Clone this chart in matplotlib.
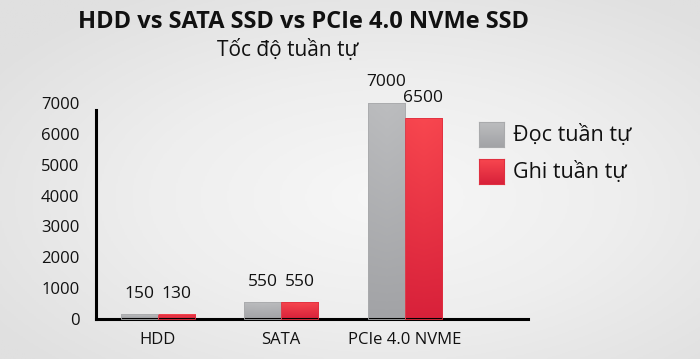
import numpy as np
import matplotlib
matplotlib.use("Agg")
import matplotlib.pyplot as plt
from matplotlib.colors import LinearSegmentedColormap
from matplotlib.patches import Rectangle

plt.rcParams['font.family'] = ['Open Sans', 'DejaVu Sans']

categories = ["HDD", "SATA", "PCIe 4.0 NVME"]
read_speed = [150, 550, 7000]
write_speed = [130, 550, 6500]
series_names = ["Đọc tuần tự", "Ghi tuần tự"]
yticks = [0, 1000, 2000, 3000, 4000, 5000, 6000, 7000]
title = "HDD vs SATA SSD vs PCIe 4.0 NVMe SSD"
subtitle = "Tốc độ tuần tự"

W, H = 700, 359
fig = plt.figure(figsize=(W / 100, H / 100), dpi=100)

# background radial gradient
bg = fig.add_axes([0, 0, 1, 1], zorder=-10)
yy, xx = np.mgrid[0:1:200j, 0:1:390j]
r = np.sqrt(((xx - 0.55) / 0.9) ** 2 + ((yy - 0.55) / 0.9) ** 2)
bgcmap = LinearSegmentedColormap.from_list("bg", ["#f7f7f7", "#eeeeee", "#e0e0e0"])
bg.imshow(r, cmap=bgcmap, aspect='auto', extent=[0, 1, 0, 1], vmin=0, vmax=0.75)
bg.set_axis_off()

ax = fig.add_axes([96 / W, 1 - 319 / H, (528 - 96) / W, (319 - 103) / H])
ax.patch.set_alpha(0)

x = np.arange(len(categories))
width = 0.3
gray_cmap = LinearSegmentedColormap.from_list("g", ["#a2a3a6", "#bcbdbf"])
red_cmap = LinearSegmentedColormap.from_list("r", ["#d8213a", "#f8474f"])

def grad_bars(xs, vals, cmap, edge):
    bars = ax.bar(xs, vals, width, color='none', edgecolor=edge, linewidth=0.6,
                  clip_on=False, zorder=3)
    for b in bars:
        x0, y0 = b.get_x(), b.get_y()
        w, h = b.get_width(), b.get_height()
        grad = np.linspace(0, 1, 256).reshape(-1, 1)
        horiz = 1 - 0.08 * np.abs(np.linspace(-1, 1, 32)).reshape(1, -1)
        img = grad * horiz
        im = ax.imshow(img, cmap=cmap, aspect='auto', origin='lower',
                       extent=[x0, x0 + w, y0, y0 + h], vmin=0, vmax=1,
                       zorder=2, clip_on=False)
        clip = Rectangle((x0, y0), w, h, transform=ax.transData)
        im.set_clip_path(clip)
    return bars

b1 = grad_bars(x - width / 2, read_speed, gray_cmap, '#a9aaac')
b2 = grad_bars(x + width / 2, write_speed, red_cmap, '#e03040')

for bars, vals in ((b1, read_speed), (b2, write_speed)):
    for b, v in zip(bars, vals):
        ax.annotate(str(v), (b.get_x() + b.get_width() / 2, b.get_height()),
                    xytext=(0, 9), textcoords='offset points', ha='center',
                    va='bottom', fontsize=12.5, color='#111111')

ax.set_xlim(-0.5, 3.0)
ax.set_ylim(0, 7000)
ax.set_yticks(yticks)
ax.set_yticklabels([str(t) for t in yticks], fontsize=12, color='#111111')
ax.set_xticks(x)
ax.set_xticklabels(categories, fontsize=12, color='#111111')
ax.tick_params(axis='both', length=0)
ax.tick_params(axis='y', pad=12)
ax.tick_params(axis='x', pad=9)
for s in ['top', 'right']:
    ax.spines[s].set_visible(False)
ax.spines['left'].set_linewidth(2.2)
ax.spines['bottom'].set_linewidth(2.2)
ax.spines['left'].set_bounds(0, 6780)

# legend
lx0 = 479 / W
for i, (name, cmap, ec) in enumerate(zip(series_names, [gray_cmap, red_cmap], ['#a9aaac', '#e03040'])):
    top = 122 + i * 37
    lax = fig.add_axes([lx0, 1 - (top + 25) / H, 25 / W, 25 / H])
    lax.imshow(np.linspace(0, 1, 64).reshape(-1, 1), cmap=cmap, aspect='auto', origin='lower')
    lax.set_xticks([]); lax.set_yticks([])
    for s in lax.spines.values():
        s.set_edgecolor(ec)
        s.set_linewidth(0.8)
    fig.text(513 / W, 1 - (top + 13) / H, name, fontsize=15.5, va='center', ha='left', color='#111111')

fig.text(303 / W, 1 - 22 / H, title, fontsize=17, fontweight='bold', ha='center', va='center', color='#111111')
fig.text(288 / W, 1 - 50 / H, subtitle, fontsize=15, ha='center', va='center', color='#111111')

fig.savefig("out.png", dpi=100)
